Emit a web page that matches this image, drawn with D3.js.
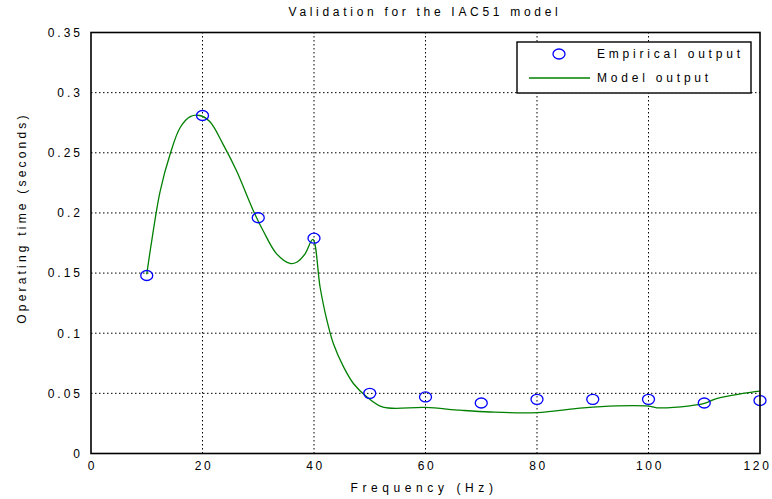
<!DOCTYPE html>
<html lang="en">
  <head>
    <script src="https://d3js.org/d3.v7.min.js"></script>
    <meta charset="utf-8"/>
    <title>Validation for the IAC51 model</title>
  </head>
  <style>
    body { margin: 0; background: #fff; }
    text { font-family: "Liberation Sans", Arial, sans-serif; font-size: 12px; fill: #000; letter-spacing: 3px; }
    .grid line { stroke: #000; stroke-width: 1; stroke-dasharray: 1.5, 2.5; }
  </style>
  <body>
    <svg id="chart"></svg>
  </body>
  <script>
    const width = 772;
    const height = 499;
    const margin = {left: 91, right: 12, top: 32.5, bottom: 45.5};

    // empirical measurements
    const empFreq = [10, 20, 30, 40, 50, 60, 70, 80, 90, 100, 110, 120];
    const empTime = [0.148, 0.281, 0.196, 0.179, 0.050, 0.047, 0.042, 0.045, 0.045, 0.045, 0.042, 0.044];

    // model output
    const modelFreq = [10, 10.9, 12.4, 14.2, 16.0, 17.8, 19.5, 21.3, 23.7, 26.1, 29.1, 30.9, 33.3, 35.7, 36.9, 38.4, 39.8,
      41.1, 42.3, 43.5, 45.3, 47.1, 49.5, 52.4, 60, 66.2, 71.6, 80, 88.3, 94.3, 100, 101.5, 107.4, 110, 112.2, 117, 120];
    const modelTime = [0.149, 0.177, 0.218, 0.249, 0.271, 0.280, 0.281, 0.276, 0.257, 0.235, 0.202, 0.185, 0.166, 0.158, 0.159, 0.166, 0.178,
      0.138, 0.111, 0.091, 0.072, 0.058, 0.047, 0.0385, 0.0383, 0.036, 0.0345, 0.034, 0.038, 0.0396, 0.0394, 0.038, 0.0396, 0.0416, 0.0457, 0.0499, 0.0518];

    const xTicks = [0, 20, 40, 60, 80, 100, 120];
    const yTicks = [0, 0.05, 0.1, 0.15, 0.2, 0.25, 0.3, 0.35];
    const yTickLabels = ["0", "0.05", "0.1", "0.15", "0.2", "0.25", "0.3", "0.35"];

    const svg = d3.select("#chart")
      .attr("width", width)
      .attr("height", height);

    const x = d3.scaleLinear().domain([0, 120]).range([margin.left, width - margin.right]);
    const y = d3.scaleLinear().domain([0, 0.35]).range([height - margin.bottom, margin.top]);

    // grid
    const grid = svg.append("g").attr("class", "grid");
    grid.selectAll(".gx")
      .data(xTicks.slice(1, -1))
      .enter().append("line")
      .attr("x1", d => x(d)).attr("x2", d => x(d))
      .attr("y1", y(0)).attr("y2", y(0.35));
    grid.selectAll(".gy")
      .data(yTicks.slice(1, -1))
      .enter().append("line")
      .attr("y1", d => y(d)).attr("y2", d => y(d))
      .attr("x1", x(0)).attr("x2", x(120));

    // axes
    svg.append("g")
      .attr("transform", "translate(0," + y(0) + ")")
      .call(d3.axisBottom(x).tickValues(xTicks).tickSize(0).tickPadding(8))
      .call(g => g.select(".domain").remove())
      .selectAll("text")
        .style("font-size", "12px")
        .style("font-family", "Liberation Sans, Arial, sans-serif")
        .style("letter-spacing", "2.6px")
        .attr("dx", d => d === 120 ? "-3px" : "1px");

    svg.append("g")
      .attr("transform", "translate(" + x(0) + ",0)")
      .call(d3.axisLeft(y).tickValues(yTicks).tickFormat((d, i) => yTickLabels[i]).tickSize(0).tickPadding(8))
      .call(g => g.select(".domain").remove())
      .selectAll("text")
        .style("font-size", "12px")
        .style("font-family", "Liberation Sans, Arial, sans-serif");

    // model line
    const line = d3.line()
      .x((d, i) => x(modelFreq[i]))
      .y((d, i) => y(modelTime[i]))
      .curve(d3.curveCatmullRom.alpha(0.5));

    svg.append("path")
      .datum(modelTime)
      .attr("d", line)
      .style("fill", "none")
      .style("stroke", "#008000")
      .style("stroke-width", 1.3);

    // empirical markers
    svg.selectAll(".emp")
      .data(empTime)
      .enter().append("ellipse")
      .attr("class", "emp")
      .attr("cx", (d, i) => x(empFreq[i]))
      .attr("cy", d => y(d))
      .attr("rx", 6)
      .attr("ry", 5)
      .style("fill", "none")
      .style("stroke", "#0000ff")
      .style("stroke-width", 1.3);

    // frame
    svg.append("rect")
      .attr("x", x(0)).attr("y", y(0.35))
      .attr("width", x(120) - x(0)).attr("height", y(0) - y(0.35))
      .style("fill", "none")
      .style("stroke", "#000")
      .style("stroke-width", 1.6);

    // titles
    svg.append("text")
      .attr("x", 425)
      .attr("y", 16)
      .attr("text-anchor", "middle")
      .style("letter-spacing", "3.7px")
      .text("Validation for the IAC51 model");

    svg.append("text")
      .attr("x", 424)
      .attr("y", 492)
      .attr("text-anchor", "middle")
      .style("letter-spacing", "4.6px")
      .text("Frequency (Hz)");

    svg.append("text")
      .attr("transform", "translate(26,218) rotate(-90)")
      .attr("text-anchor", "middle")
      .style("letter-spacing", "3.2px")
      .text("Operating time (seconds)");

    // legend
    const legend = svg.append("g").attr("transform", "translate(517,42)");
    legend.append("rect")
      .attr("width", 234).attr("height", 51)
      .style("fill", "#fff")
      .style("stroke", "#000")
      .style("stroke-width", 1.4);
    legend.append("ellipse")
      .attr("cx", 42).attr("cy", 12)
      .attr("rx", 6).attr("ry", 5)
      .style("fill", "none").style("stroke", "#0000ff").style("stroke-width", 1.3);
    legend.append("text").attr("x", 80).attr("y", 16).style("letter-spacing", "3.8px").text("Empirical output");
    legend.append("line")
      .attr("x1", 12).attr("x2", 73).attr("y1", 36).attr("y2", 36)
      .style("stroke", "#008000").style("stroke-width", 1.3);
    legend.append("text").attr("x", 80).attr("y", 40).style("letter-spacing", "3.8px").text("Model output");
  </script>
</html>
